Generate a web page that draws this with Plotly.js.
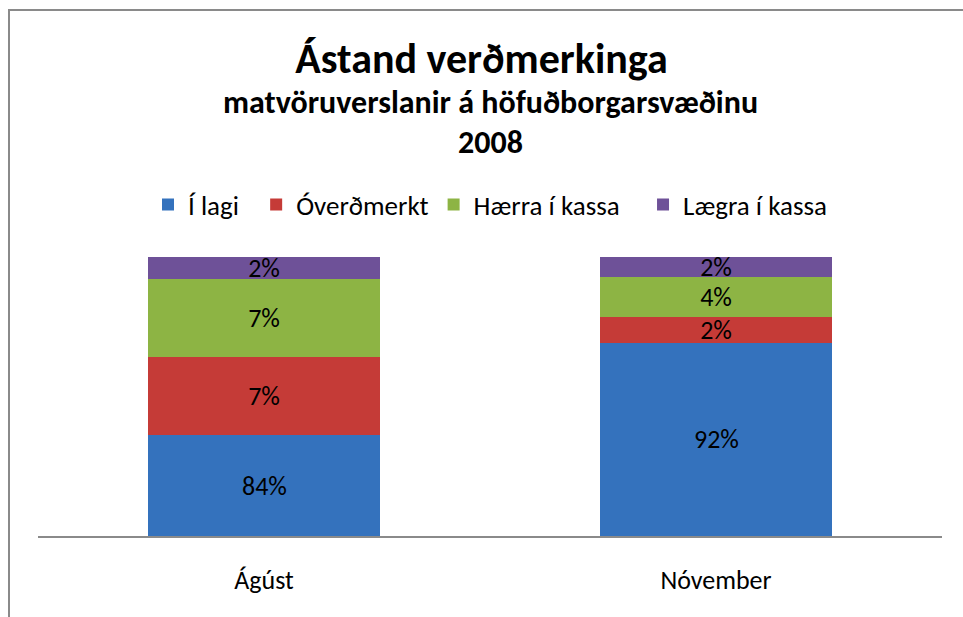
<!DOCTYPE html>
<html><head><meta charset="utf-8">
<script src="https://cdn.plot.ly/plotly-3.0.1.min.js"></script>
<style>
html,body{margin:0;padding:0;background:#fff;overflow:hidden;}
#chart{width:963px;height:617px;position:relative;}
#frame{position:absolute;left:8px;top:9px;width:1000px;height:700px;border-left:2px solid #8a8a8a;border-top:2px solid #8a8a8a;pointer-events:none;}
</style></head>
<body>
<div id="chart"></div>
<div id="frame"></div>
<script>
const categories = ['Ágúst', 'Nóvember'];
const seriesNames = ['Í lagi\u00a0\u00a0', 'Óverðmerkt', 'Hærra í kassa\u00a0\u00a0\u00a0', 'Lægra í kassa'];
const iLagi = [84.05, 92.3];
const overdmerkt = [7.0, 2.3];
const haerra = [7.0, 3.6];
const laegra = [1.95, 1.8];
const colors = ['#3472bd', '#c53b37', '#8db444', '#6e5198'];
const yMin = 75, yMax = 100;

const FONT = 'Carlito, Calibri, "Liberation Sans Narrow", sans-serif';
const vals = [iLagi, overdmerkt, haerra, laegra];
const pct = a => Math.round(a) + '%';
const traces = vals.map((v, i) => ({
  type: 'bar', x: categories, y: v, name: seriesNames[i],
  marker: {color: colors[i], line: {width: 0}},
  text: i === 0 ? null : v.map(pct),
  textposition: i === 0 ? 'none' : 'inside', insidetextanchor: 'middle', textangle: 0,
  textfont: {family: FONT, size: 26, color: '#000'},
  hoverinfo: 'none'
}));

// labels for the first series, centred in the visible part of the bar
const labelAnn = categories.map((c, k) => ({
  x: c, y: (yMin + iLagi[k]) / 2, xref: 'x', yref: 'y', text: pct(iLagi[k]),
  showarrow: false, font: {family: FONT, size: 26, color: '#000'}
}));

const layout = {
  width: 963, height: 617,
  barmode: 'stack', bargap: 0.485,
  margin: {l: 37.5, r: 20.5, t: 257, b: 81},
  paper_bgcolor: '#fff', plot_bgcolor: '#fff',
  font: {family: FONT, color: '#000'},
  uniformtext: {mode: 'show', minsize: 26},
  showlegend: true,
  title: {text: '<b>Ástand verðmerkinga</b>', font: {family: FONT, size: 42, color: '#000'},
          x: 0.5, xanchor: 'center', y: 1 - 58/617, yanchor: 'middle', yref: 'container'},
  annotations: [
    {text: '<b>matvöruverslanir á höfuðborgarsvæðinu</b>', xref: 'paper', yref: 'paper',
     x: 0.5, y: (536-103)/279, showarrow: false, font: {family: FONT, size: 32, color: '#000'}, yanchor: 'middle'},
    {text: '<b>2008</b>', xref: 'paper', yref: 'paper',
     x: 0.5, y: (536-142)/279, showarrow: false, font: {family: FONT, size: 32, color: '#000'}, yanchor: 'middle'}
  ].concat(labelAnn),
  legend: {orientation: 'h', x: 0.5, xanchor: 'center', y: (536-205)/279, yanchor: 'middle',
           font: {family: FONT, size: 27, color: '#000'}, traceorder: 'normal', itemwidth: 30},
  xaxis: {showline: true, linecolor: '#8a8a8a', linewidth: 2, ticks: '', showgrid: false,
          tickfont: {family: FONT, size: 26, color: '#000'}, ticklabelstandoff: 20, fixedrange: true},
  yaxis: {range: [yMin, yMax], visible: false, showgrid: false, zeroline: false, fixedrange: true}
};
Plotly.newPlot('chart', traces, layout, {displayModeBar: false, staticPlot: true});
</script>
</body></html>
